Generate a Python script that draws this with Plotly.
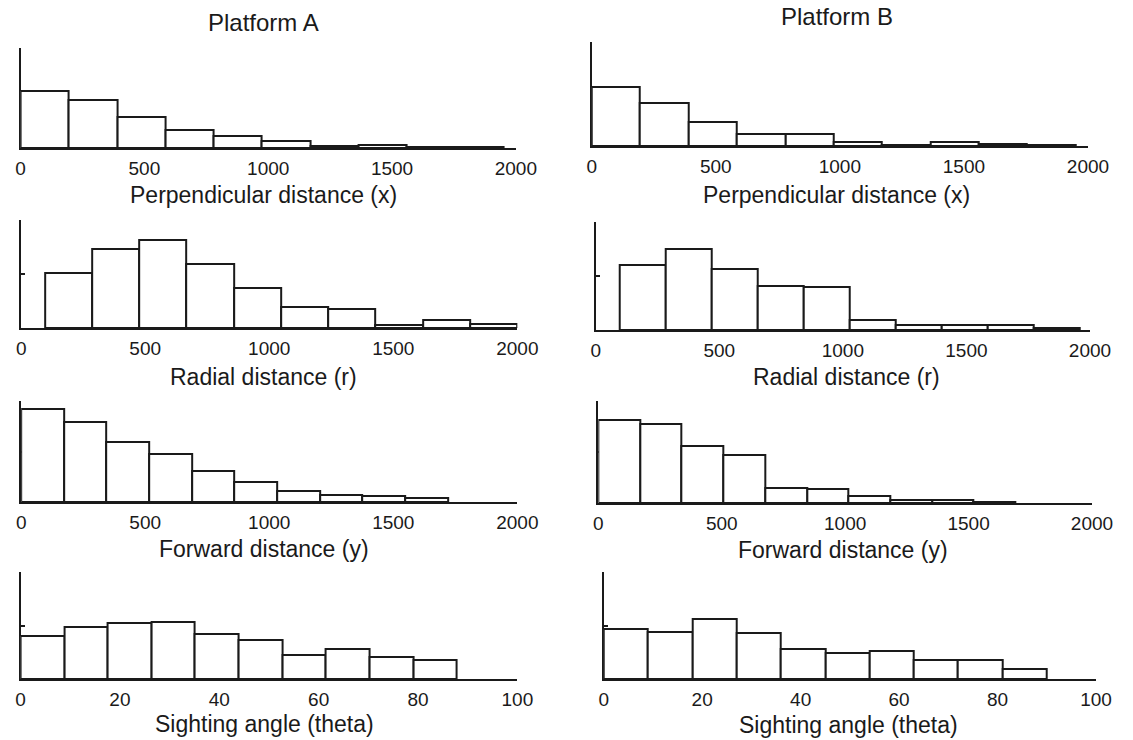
import plotly.graph_objects as go

W, H = 1133, 740

# ---------------- data ----------------
platforms = ["Platform A", "Platform B"]
variables = ["Perpendicular distance (x)", "Radial distance (r)",
             "Forward distance (y)", "Sighting angle (theta)"]

# histogram bins: first break and bin width, then bar heights (frequency, arbitrary units)
a_perp_start, a_perp_width = 0, 195
a_perp_counts = [170, 142, 92, 54, 36, 21, 7, 8, 3, 2]
b_perp_start, b_perp_width = 0, 195
b_perp_counts = [173, 128, 72, 36, 36, 12, 4, 12, 5, 3]

a_rad_start, a_rad_width = 95, 190.5
a_rad_counts = [165, 237, 265, 193, 120, 63, 58, 10, 25, 12]
b_rad_start, b_rad_width = 96, 186.4
b_rad_counts = [197, 245, 185, 133, 130, 30, 15, 15, 15, 7]

a_fwd_start, a_fwd_width = 0, 172
a_fwd_counts = [278, 240, 178, 145, 94, 60, 33, 22, 18, 12]
b_fwd_start, b_fwd_width = 0, 169
b_fwd_counts = [249, 238, 172, 143, 44, 41, 22, 8, 10, 4]

a_ang_start, a_ang_width = 0, 8.78
a_ang_counts = [129, 156, 168, 172, 134, 117, 71, 89, 66, 57]
b_ang_start, b_ang_width = 0, 9.0
b_ang_counts = [149, 140, 182, 139, 89, 77, 84, 57, 56, 29]

# y-axis maxima of each panel (same units as counts)
y_max = {"A1": 297, "B1": 306, "A2": 325, "B2": 325,
         "A3": 302, "B3": 306, "A4": 322, "B4": 322}

dist_ticks = [0, 500, 1000, 1500, 2000]
angle_ticks = [0, 20, 40, 60, 80, 100]

# ---------------- layout (target pixel boxes of each panel) ----------------
boxes = {
    "A1": (19, 515, 48, 148),
    "B1": (591, 1088, 42, 146),
    "A2": (19.6, 516.5, 220, 328),
    "B2": (595, 1090, 222, 330),
    "A3": (19.6, 516.5, 401, 502),
    "B3": (597.6, 1092, 401, 503),
    "A4": (19, 516.5, 572, 679),
    "B4": (603, 1096, 572, 679),
}
label_pos = {  # centre of x-axis title, pixels
    "A1": (262, 195), "B1": (836, 195),
    "A2": (262, 377), "B2": (846, 377),
    "A3": (263, 549), "B3": (843, 550),
    "A4": (263, 724), "B4": (848, 725),
}
title_pos = {"A": (262, 22), "B": (837, 17)}

# horizontal calibration of the capture (measured from previous renders)
SX, OX = 0.9785, 3.4


def px(x):
    return ((x - OX) / SX) / W


def py(y):
    return 1 - y / H


panels = [
    ("A1", a_perp_start, a_perp_width, a_perp_counts, variables[0], dist_ticks, 2000),
    ("B1", b_perp_start, b_perp_width, b_perp_counts, variables[0], dist_ticks, 2000),
    ("A2", a_rad_start, a_rad_width, a_rad_counts, variables[1], dist_ticks, 2000),
    ("B2", b_rad_start, b_rad_width, b_rad_counts, variables[1], dist_ticks, 2000),
    ("A3", a_fwd_start, a_fwd_width, a_fwd_counts, variables[2], dist_ticks, 2000),
    ("B3", b_fwd_start, b_fwd_width, b_fwd_counts, variables[2], dist_ticks, 2000),
    ("A4", a_ang_start, a_ang_width, a_ang_counts, variables[3], angle_ticks, 100),
    ("B4", b_ang_start, b_ang_width, b_ang_counts, variables[3], angle_ticks, 100),
]

FONT = "Liberation Sans, Arial, sans-serif"
INK = "#1a1a1a"

fig = go.Figure()
layout = dict(
    width=W, height=H, margin=dict(l=0, r=0, t=0, b=0),
    paper_bgcolor="white", plot_bgcolor="white", showlegend=False,
    font=dict(family=FONT, color=INK),
)
annotations = []

for i, (key, start, width, counts, label, ticks, xmax) in enumerate(panels):
    n = i + 1
    xa = "x" if n == 1 else f"x{n}"
    ya = "y" if n == 1 else f"y{n}"
    centers = [start + width * (k + 0.5) for k in range(len(counts))]
    fig.add_trace(go.Bar(
        x=centers, y=counts, width=[width] * len(counts),
        marker=dict(color="white", line=dict(color=INK, width=2)),
        xaxis=xa, yaxis=ya, hoverinfo="x+y",
    ))
    x0, x1, yt, yb = boxes[key]
    ymax = y_max[key]
    layout["xaxis" if n == 1 else f"xaxis{n}"] = dict(
        domain=[px(x0), px(x1)], anchor=ya, range=[0, xmax],
        showgrid=False, zeroline=False, showline=True, linecolor=INK, linewidth=2,
        ticks="inside", ticklen=4, tickwidth=2, tickcolor=INK,
        tickvals=ticks, ticktext=[str(t) for t in ticks],
        tickfont=dict(size=19, color=INK), ticklabelstandoff=2,
        layer="below traces", fixedrange=True,
    )
    layout["yaxis" if n == 1 else f"yaxis{n}"] = dict(
        domain=[py(yb), py(yt)], anchor=xa, range=[0, ymax],
        showgrid=False, zeroline=False, showline=True, linecolor=INK, linewidth=2,
        ticks="inside", ticklen=4, tickwidth=2, tickcolor=INK,
        tickvals=[0, ymax / 2, ymax], showticklabels=False,
        layer="below traces", fixedrange=True,
    )
    lx, ly = label_pos[key]
    annotations.append(dict(
        text=label, x=px(lx), y=py(ly), xref="paper", yref="paper",
        xanchor="center", yanchor="middle", showarrow=False,
        font=dict(size=23, color=INK, family=FONT),
    ))

for name, key in zip(platforms, ["A", "B"]):
    tx, ty = title_pos[key]
    annotations.append(dict(text=name, x=px(tx), y=py(ty), xref="paper", yref="paper",
                            xanchor="center", yanchor="middle", showarrow=False,
                            font=dict(size=24, color=INK, family=FONT)))

layout["annotations"] = annotations
layout["bargap"] = 0
fig.update_layout(**layout)
fig.write_html(
    "out.html",
    config={"displayModeBar": False},
    post_script="document.body.style.margin='0';document.body.style.overflow='hidden';",
)
